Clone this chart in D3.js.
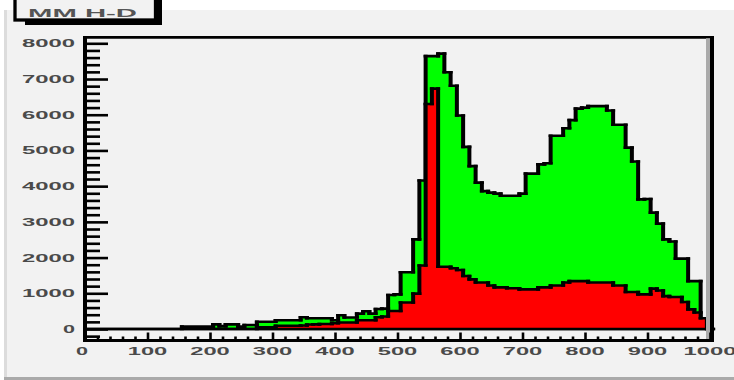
<!DOCTYPE html>
<html><head><meta charset="utf-8">
<script src="https://cdn.jsdelivr.net/npm/d3@7/dist/d3.min.js"></script>
<style>html,body{margin:0;padding:0;background:#fff;} svg{display:block;}</style>
</head><body>
<svg id="c" width="734" height="380"></svg>
<script>
// ---- data ----
const binStart = 5;
const binWidth = 10;
const totalCounts = [
  0,0,0,0,0,0,0,0,0,0,0,0,0,0,0,
  70,70,70,70,70,
  130,80,130,130,70,110,110,
  205,205,205,
  245,245,245,245,
  330,
  300,300,300,300,
  245,
  385,
  320,320,
  430,495,430,
  560,570,
  950,970,
  1590,1590,
  2510,4160,
  7640,7640,7710,
  7190,6810,5980,5100,4560,4100,3860,3820,3790,3730,
  3730,3730,3790,4350,4350,4610,4640,5410,5410,5620,
  5850,6170,6200,6240,6240,6240,6120,5720,5720,5080,
  4690,3630,3640,3260,2950,2510,2450,1970,1970,1340,
  1340,300,0
];
const redCounts = [
  0,0,0,0,0,0,0,0,0,0,0,0,0,0,0,0,0,0,0,0,0,0,0,0,0,0,0,
  50,50,50,
  90,90,90,90,
  100,125,130,140,140,160,
  180,180,180,
  245,245,245,
  330,350,
  505,505,
  740,740,
  990,1780,
  6300,6730,
  1745,1745,1700,1650,1485,1390,1300,1300,1220,1165,
  1165,1140,1140,1110,1110,1110,1165,1165,1220,1220,
  1300,1340,1340,1340,1300,1300,1300,1300,1220,1220,
  1035,1035,970,970,1130,1080,920,895,895,755,
  550,460,300,0
];
const xMajorTicks = [0,100,200,300,400,500,600,700,800,900,1000];
const xMinorStep = 20;
const yMajorTicks = [0,1000,2000,3000,4000,5000,6000,7000,8000];
const yMinorStep = 200;
const titleText = "MM H-D";

// ---- layout ----
const svg = d3.select("#c");
svg.append("rect").attr("x",7).attr("y",10).attr("width",727).attr("height",367).attr("fill","#f2f2f2");
svg.append("rect").attr("x",4).attr("y",10).attr("width",3).attr("height",370).attr("fill","#dcdcdc");
svg.append("rect").attr("x",4).attr("y",377).attr("width",730).attr("height",3).attr("fill","#aaaaaa");

const x = d3.scaleLinear().domain([0,1000]).range([85,710]);
const y = d3.scaleLinear().domain([0,8000]).range([329,43.3]);

const frameTop = 37.3, frameBottom = 340.5, frameLeft = 85, frameRight = 712;

const g = svg.append("g");

function drawHist(counts, fill) {
  const n = counts.length;
  const edges = d3.range(n + 1).map(i => binStart + i * binWidth);
  const pts = counts.map((v, i) => [edges[i], v]).concat([[edges[n], counts[n - 1]]]);
  const area = d3.area().x(d => x(d[0])).y0(y(0)).y1(d => y(d[1])).curve(d3.curveStepAfter);
  g.append("path").attr("d", area(pts)).attr("fill", fill);
  let h = "";
  counts.forEach((v, i) => { h += `M${x(edges[i]) - 2},${y(v)}H${x(edges[i + 1]) + 2}`; });
  h += `M${x(edges[0]) - 2},${y(0)}H${x(edges[n]) + 2}`;
  g.append("path").attr("d", h).attr("fill", "none").attr("stroke", "#000").attr("stroke-width", 2.6);
  let vp = "";
  for (let i = 0; i <= n; i++) {
    const a = i === 0 ? 0 : counts[i - 1];
    const b = i === n ? 0 : counts[i];
    if (a !== b) {
      const y1 = Math.min(y(a), y(b)) - 1.3, y2 = Math.max(y(a), y(b)) + 1.3;
      vp += `M${x(edges[i])},${y1}V${y2}`;
    }
  }
  g.append("path").attr("d", vp).attr("fill", "none").attr("stroke", "#000").attr("stroke-width", 4);
}
drawHist(totalCounts, "#00ff00");
drawHist(redCounts, "#ff0000");

// ---- frame ----
svg.append("line").attr("x1",frameLeft-2).attr("x2",frameRight+2).attr("y1",frameTop).attr("y2",frameTop)
  .attr("stroke","#000").attr("stroke-width",2.7);
svg.append("line").attr("x1",frameRight-4).attr("x2",frameRight-4).attr("y1",frameTop+1).attr("y2",frameBottom)
  .attr("stroke","#aaaaaa").attr("stroke-width",4);
svg.append("line").attr("x1",frameRight).attr("x2",frameRight).attr("y1",frameTop-1.3).attr("y2",frameBottom+1.5)
  .attr("stroke","#000").attr("stroke-width",4);

// ---- axes ----
const xMinor = d3.range(0, 1001, xMinorStep).filter(v => xMajorTicks.indexOf(v) < 0);
const yMinor = d3.range(-yMinorStep, 8001, yMinorStep).filter(v => yMajorTicks.indexOf(v) < 0);

function styleAxis(sel) {
  sel.select(".domain").remove();
  sel.selectAll(".tick line").attr("stroke","#000").attr("stroke-width",2.6);
}
svg.append("g").attr("transform",`translate(0,${frameBottom})`)
  .call(d3.axisTop(x).tickValues(xMajorTicks).tickSize(8).tickFormat(""))
  .call(styleAxis);
svg.append("g").attr("transform",`translate(0,${frameBottom})`)
  .call(d3.axisTop(x).tickValues(xMinor).tickSize(4).tickFormat(""))
  .call(styleAxis);
svg.append("g").attr("transform",`translate(${frameLeft},0)`)
  .call(d3.axisRight(y).tickValues(yMajorTicks).tickSize(23).tickFormat(""))
  .call(styleAxis);
svg.append("g").attr("transform",`translate(${frameLeft},0)`)
  .call(d3.axisRight(y).tickValues(yMinor).tickSize(15).tickFormat(""))
  .call(styleAxis);

svg.append("line").attr("x1",frameLeft-2).attr("x2",frameRight+2).attr("y1",frameBottom).attr("y2",frameBottom)
  .attr("stroke","#000").attr("stroke-width",3);
svg.append("line").attr("x1",frameLeft).attr("x2",frameLeft).attr("y1",frameTop-1.3).attr("y2",frameBottom+1.5)
  .attr("stroke","#000").attr("stroke-width",4);

const fontFam = "'Liberation Sans', Arial, sans-serif";
function lab(txt, px, py, anchor) {
  const t = svg.append("text").attr("x",px).attr("y",py).attr("text-anchor",anchor)
    .attr("font-family",fontFam).attr("font-weight","bold").attr("font-size",11)
    .attr("fill","#4a4a4a").text(txt);
  t.attr("textLength", txt.length === 1 ? 12 : txt.length * 13.5 - 1).attr("lengthAdjust","spacingAndGlyphs");
  return t;
}
yMajorTicks.forEach(v => lab(String(v), 75, y(v) + 4, "end"));
xMajorTicks.forEach(v => lab(String(v), x(v) - (v === 0 ? 3 : 0), 355, "middle"));

// ---- title box ----
svg.append("rect").attr("x",157).attr("y",-5).attr("width",5).attr("height",30).attr("fill","#000");
svg.append("rect").attr("x",25).attr("y",21).attr("width",137).attr("height",4).attr("fill","#000");
svg.append("rect").attr("x",15).attr("y",-10).attr("width",140.5).attr("height",30)
  .attr("fill","#f2f2f2").attr("stroke","#000").attr("stroke-width",3.3);
svg.append("text").attr("x",28).attr("y",17).attr("font-family",fontFam).attr("font-weight","bold")
  .attr("font-size",10).attr("fill","#555").attr("textLength",109).attr("lengthAdjust","spacingAndGlyphs")
  .text(titleText);
</script>
</body></html>
